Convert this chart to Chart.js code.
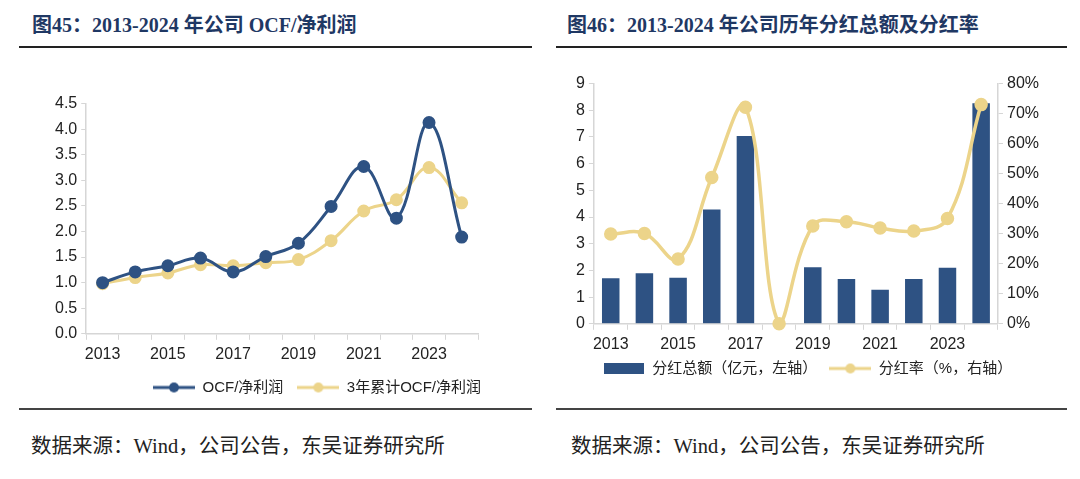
<!DOCTYPE html>
<html>
<head>
<meta charset="utf-8">
<script src="https://cdn.jsdelivr.net/npm/chart.js@4.4.1/dist/chart.umd.min.js"></script>
<style>
    body { margin: 0; width: 1080px; height: 479px; background: #fff; position: relative; overflow: hidden; }
    .title { position: absolute; top: 9px; font: bold 20px "Liberation Serif", "Noto Sans CJK SC", serif; color: #1f3864; white-space: nowrap; }
    .rule { position: absolute; height: 2px; background: #222; }
    .rule.bottom { background: #444; }
    .src { position: absolute; top: 429px; font: 20.5px "Liberation Serif", "Noto Sans CJK SC", serif; color: #222; white-space: nowrap; }
    .box { position: absolute; }
</style>
</head>
<body>
<div class="title" style="left:32px">图45：2013-2024 年公司 OCF/净利润</div>
<div class="title" style="left:567px">图46：2013-2024 年公司历年分红总额及分红率</div>
<div class="rule" style="left:19px;width:513px;top:46px"></div>
<div class="rule" style="left:556px;width:511px;top:46px"></div>

<div class="box" style="left:51px;top:90px;width:444px;height:318px"><canvas id="ocfChart"></canvas></div>
<div class="box" style="left:572px;top:70px;width:471px;height:326px"><canvas id="divChart"></canvas></div>

<div class="rule bottom" style="left:19px;width:513px;top:408px"></div>
<div class="rule bottom" style="left:556px;width:511px;top:408px"></div>
<div class="src" style="left:31px">数据来源：Wind，公司公告，东吴证券研究所</div>
<div class="src" style="left:571px">数据来源：Wind，公司公告，东吴证券研究所</div>

<script>
const years = ['2013', '2014', '2015', '2016', '2017', '2018', '2019', '2020', '2021', '2022', '2023', '2024'];
// 图45
const ocfRatio = [1.00, 1.21, 1.33, 1.48, 1.21, 1.51, 1.77, 2.49, 3.27, 2.26, 4.13, 1.89];
const ocfRatio3y = [0.98, 1.10, 1.19, 1.35, 1.33, 1.39, 1.45, 1.82, 2.40, 2.62, 3.25, 2.56];
// 图46
const dividend = [1.71, 1.89, 1.73, 4.28, 7.04, 0, 2.12, 1.68, 1.28, 1.68, 2.10, 8.26];
const payoutRate = [29.9, 30.1, 21.6, 48.7, 72.1, 0, 32.6, 34.0, 31.9, 30.9, 35.1, 73.0];

const NAVY = '#2e5283';
const GOLD = '#ecd48a';
const AXIS = '#d6d6d6';
const tickFont = { family: '"Liberation Sans", Arial, sans-serif', size: 16 };
const legendFont = { family: '"Liberation Sans", "Noto Sans CJK SC", sans-serif', size: 15 };

function lineSwatch(color) {
    const c = document.createElement('canvas');
    c.width = 42; c.height = 12;
    const g = c.getContext('2d');
    g.strokeStyle = color; g.lineWidth = 3;
    g.beginPath(); g.moveTo(0, 6); g.lineTo(42, 6); g.stroke();
    g.fillStyle = color;
    g.beginPath(); g.arc(21, 6, 5, 0, Math.PI * 2); g.fill();
    return c;
}
function rectSwatch(color) {
    const c = document.createElement('canvas');
    c.width = 40; c.height = 11;
    const g = c.getContext('2d');
    g.fillStyle = color; g.fillRect(0, 0, 40, 11);
    return c;
}

function legendWith(swatches, align, pad) {
    return {
        position: 'bottom',
        align: align,
        labels: {
            usePointStyle: true,
            pointStyleWidth: 42,
            boxHeight: 12,
            padding: pad,
            color: '#222',
            font: legendFont,
            sort: (a, b) => a.datasetIndex - b.datasetIndex,
            generateLabels: chart => Chart.defaults.plugins.legend.labels.generateLabels(chart).map(l => {
                l.pointStyle = swatches[l.datasetIndex];
                return l;
            })
        }
    };
}

// pull the legend a few px closer to the axis labels
const liftLegend = px => ({
    id: 'liftLegend',
    afterLayout(chart) {
        chart.legend.top -= px;
        chart.legend.bottom -= px;
    }
});

const everyOther = function (val, i) { return i % 2 === 0 ? this.getLabelForValue(val) : ''; };

const xAxis = {
    offset: true,
    grid: { display: true, drawOnChartArea: false, drawTicks: true, tickLength: 6, color: AXIS, offset: true },
    border: { color: AXIS, width: 1.5 },
    ticks: { autoSkip: false, maxRotation: 0, color: '#222', font: tickFont, padding: 5, callback: everyOther }
};

// 图45
new Chart(document.getElementById('ocfChart'), {
    type: 'line',
    data: {
        labels: years,
        datasets: [
            { label: 'OCF/净利润', data: ocfRatio, borderColor: NAVY, backgroundColor: NAVY, borderWidth: 3, pointRadius: 5, tension: 0.4 },
            { label: '3年累计OCF/净利润', data: ocfRatio3y, borderColor: GOLD, backgroundColor: GOLD, borderWidth: 3, pointRadius: 5, tension: 0.4 }
        ]
    },
    options: {
        responsive: true,
        maintainAspectRatio: false,
        animation: false,
        layout: { padding: { top: 8, left: 0, right: 0, bottom: 0 } },
        scales: {
            x: xAxis,
            y: {
                min: 0, max: 4.5,
                grid: { drawOnChartArea: false, tickLength: 5, color: AXIS },
                border: { color: AXIS, width: 1.5 },
                ticks: { stepSize: 0.5, color: '#222', font: tickFont, padding: 4, callback: v => v.toFixed(1) }
            },
            pad: {
                type: 'linear', position: 'right', display: true,
                grid: { display: false }, border: { display: false }, ticks: { display: false },
                afterFit: s => { s.width = 17; }
            }
        },
        plugins: {
            legend: legendWith([lineSwatch(NAVY), lineSwatch(GOLD)], 'end', 14),
            tooltip: { enabled: false }
        }
    },
    plugins: [liftLegend(3)]
});

// 图46
new Chart(document.getElementById('divChart'), {
    type: 'bar',
    data: {
        labels: years,
        datasets: [
            { type: 'bar', label: '分红总额（亿元，左轴）', data: dividend, backgroundColor: NAVY, yAxisID: 'y', order: 2, categoryPercentage: 1, barPercentage: 0.52 },
            { type: 'line', label: '分红率（%，右轴）', data: payoutRate, borderColor: GOLD, backgroundColor: GOLD, borderWidth: 3.5, pointRadius: 5, tension: 0.4, yAxisID: 'y1', order: 1, clip: false }
        ]
    },
    options: {
        responsive: true,
        maintainAspectRatio: false,
        animation: false,
        layout: { padding: { top: 8 } },
        scales: {
            x: xAxis,
            y: {
                position: 'left', min: 0, max: 9,
                grid: { drawOnChartArea: false, tickLength: 5, color: AXIS },
                border: { color: AXIS, width: 1.5 },
                ticks: { stepSize: 1, color: '#222', font: tickFont, padding: 4 }
            },
            y1: {
                position: 'right', min: 0, max: 80,
                grid: { drawOnChartArea: false, tickLength: 5, color: AXIS },
                border: { color: AXIS, width: 1.5 },
                ticks: { stepSize: 10, color: '#222', font: tickFont, padding: 4, callback: v => v + '%' }
            }
        },
        plugins: {
            legend: legendWith([rectSwatch(NAVY), lineSwatch(GOLD)], 'center', 12),
            tooltip: { enabled: false }
        }
    },
    plugins: [liftLegend(10)]
});
</script>
</body>
</html>
